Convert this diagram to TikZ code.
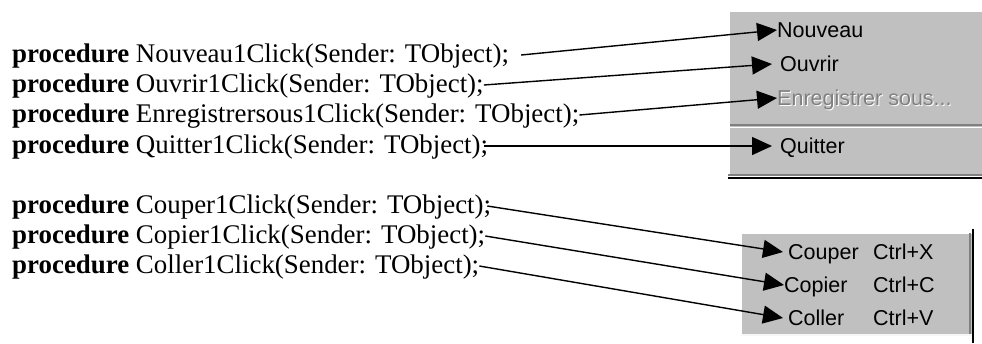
\documentclass[tikz,border=0pt]{standalone}
\usepackage{fontspec}
\setmainfont{Liberation Serif}
\newfontfamily\menufont{Liberation Sans}
\usetikzlibrary{arrows.meta,positioning}
\definecolor{MenuGray}{RGB}{192,192,192}
\definecolor{MenuShade}{RGB}{128,128,128}

\begin{document}
\begin{tikzpicture}[x=1pt,y=-1pt,
  proc/.style={anchor=west,inner sep=0pt,text height=18pt,text depth=4pt,
    font=\fontsize{26.9}{31}\selectfont},
  item/.style={anchor=west,inner sep=0pt,text height=15.5pt,text depth=0pt,
    font=\menufont\fontsize{21.5}{24}\selectfont},
  link/.style={-{Triangle[length=20pt,width=18pt]},line width=1.4pt}]
  \useasboundingbox (0,0) rectangle (982,343);
  % menu Fichier
  \fill[MenuGray] (728,10) rectangle (982,176);
  \draw[white,line width=1.5pt] (729,176) -- (729,11) -- (982,11);
  \draw[MenuShade,line width=1.5pt] (730,125) -- (982,125);
  \draw[white,line width=1.5pt] (730,127.5) -- (982,127.5);
  \draw[MenuShade,line width=1.5pt] (728,175) -- (982,175);
  \draw[line width=2pt] (728,178) -- (982,178);
  % menu Edition
  \fill[MenuGray] (740,232) rectangle (972,334);
  \draw[white,line width=1.5pt] (741,334) -- (741,233) -- (972,233);
  \draw[white!85!MenuGray,line width=1.5pt] (741,335) -- (972,335);
  \draw[MenuShade,line width=1.5pt] (970,233) -- (970,334);
  \draw[line width=2pt] (973,229) -- (973,343);

  \foreach \nm/\y in {Nouveau/55,Ouvrir/85,Enregistrersous/115,Quitter/146,
                      Couper/206,Copier/236,Coller/266}
    \node[proc] (p\nm) at (12,\y) {\textbf{procedure} \nm1Click(Sender: TObject);};

  \node[item] (mNouveau) at (777,30) {Nouveau};
  \node[item] (mOuvrir) at (780,64) {Ouvrir};
  \node[item,text=white] (mShadow) at (778,99) {Enregistrer sous...};
  \node[item,text=MenuShade] (mEnregistrersous) at (777,98) {Enregistrer sous...};
  \node[item] (mQuitter) at (780,146) {Quitter};
  \node[item] (mCouper) at (788,252) {Couper};
  \node[item] (mCopier) at (784,285) {Copier};
  \node[item] (mColler) at (788,318) {Coller};
  \node[item] (kCouper) at (873,252) {Ctrl+X};
  \node[item] (kCopier) at (873,285) {Ctrl+C};
  \node[item] (kColler) at (873,318) {Ctrl+V};

  \draw[link] ([xshift=12pt]pNouveau.east) -- (mNouveau.west);
  \draw[link] (pOuvrir.east) -- ([xshift=-8pt]mOuvrir.west);
  \draw[link] (pEnregistrersous.east) -- (mEnregistrersous.west);
  \draw[link] ([xshift=-4pt]pQuitter.east) -- ([xshift=-8pt]mQuitter.west);
  \draw[link] ([xshift=-4pt]pCouper.east) -- ([xshift=-5pt]mCouper.west);
  \draw[link] (pCopier.east) -- (mCopier.west);
  \draw[link] (pColler.east) -- ([xshift=-5pt]mColler.west);
\end{tikzpicture}
\end{document}
